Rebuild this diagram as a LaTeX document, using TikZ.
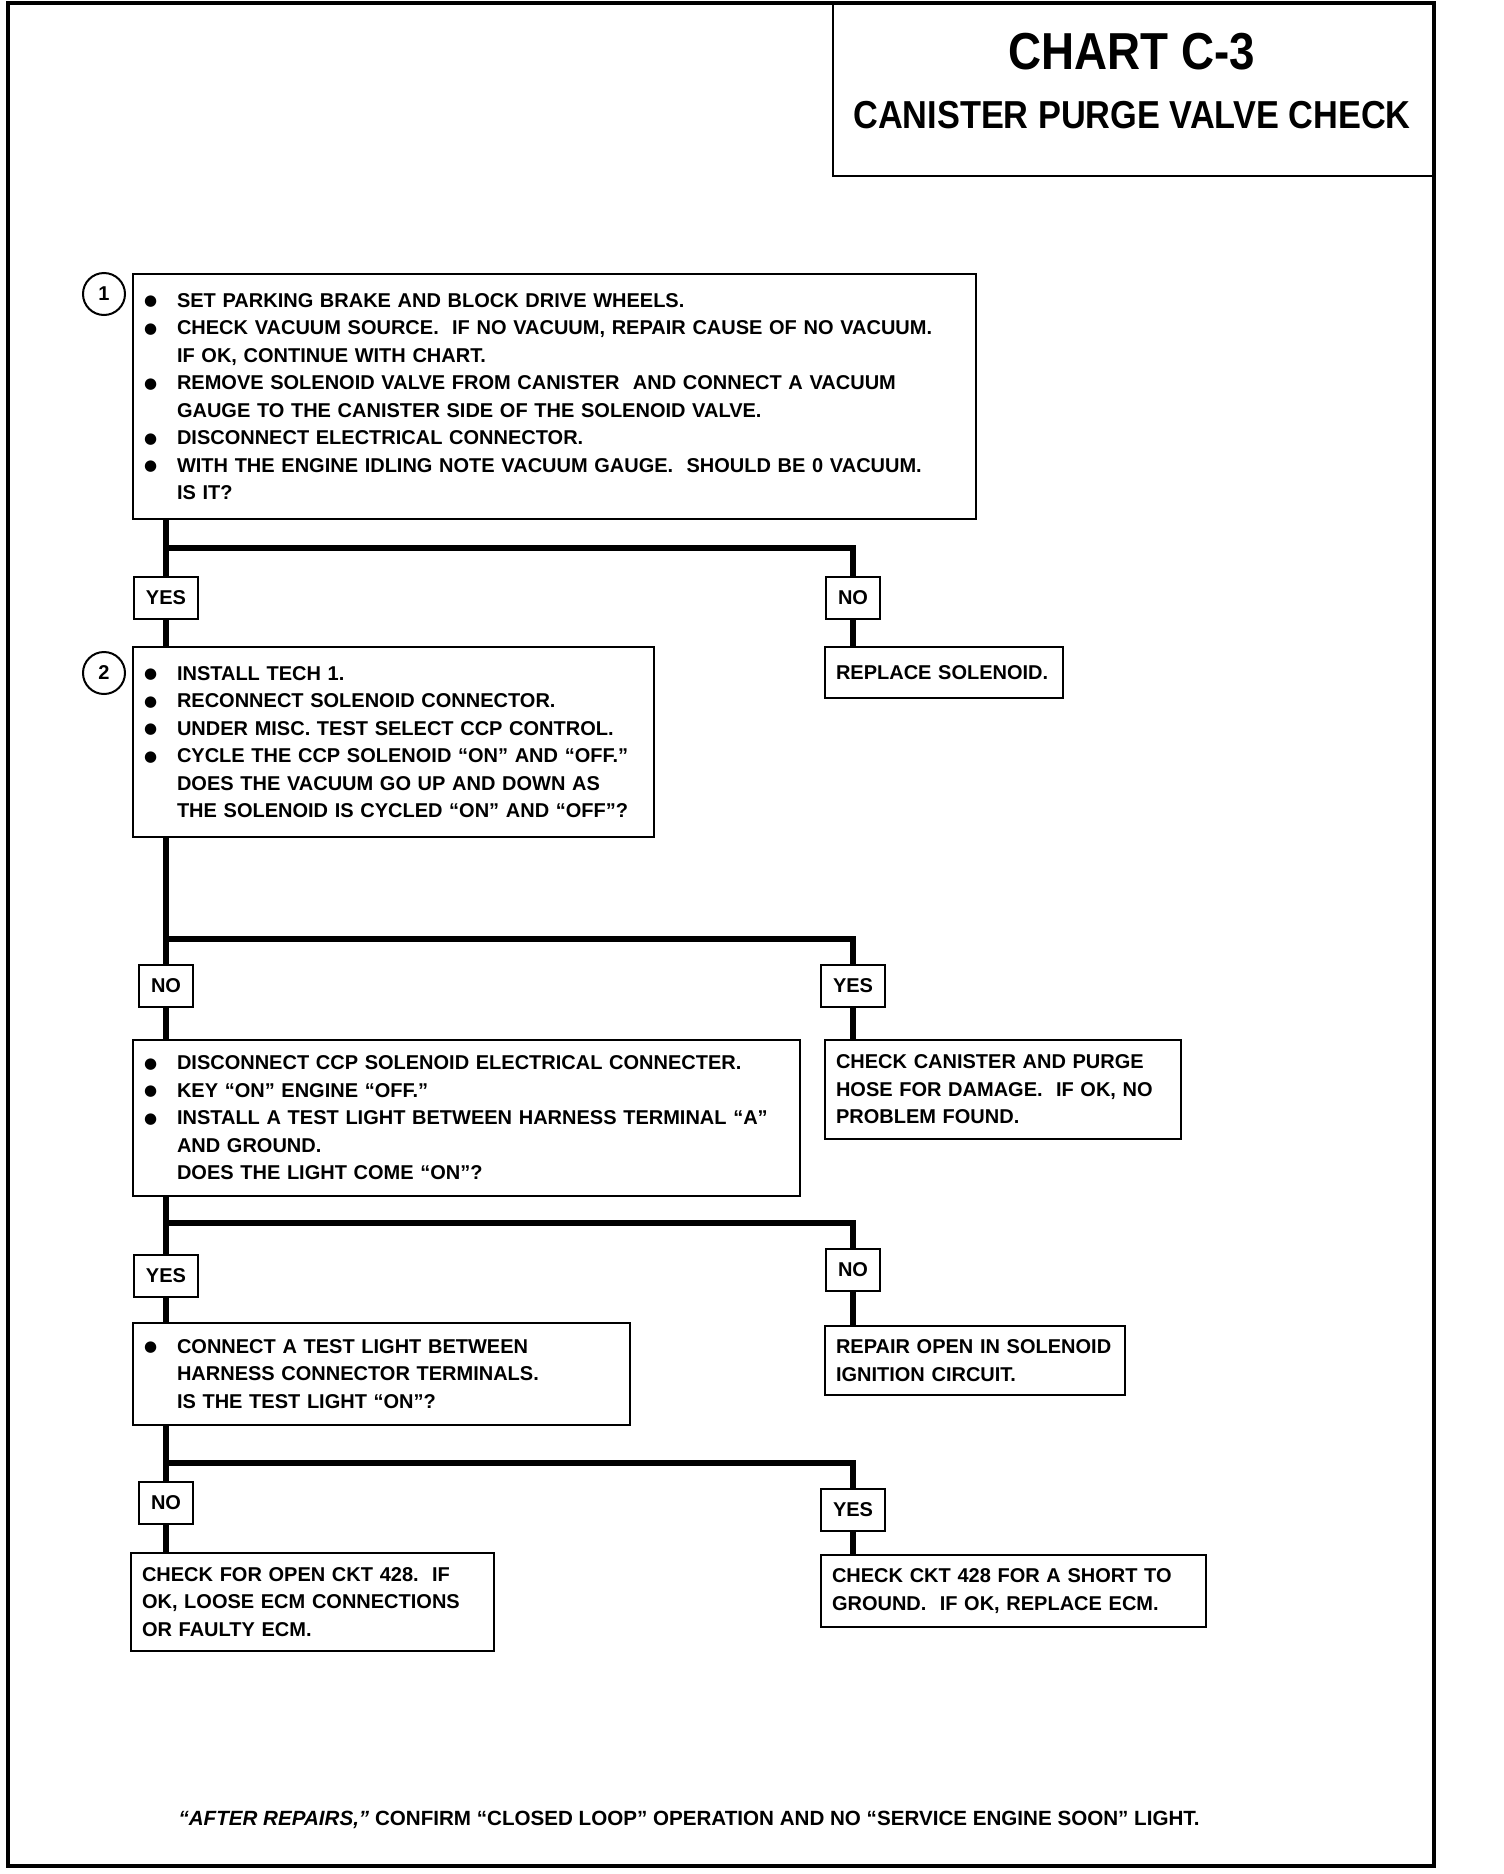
\documentclass[tikz,border=0pt]{standalone}
\usepackage{fontspec}
\setmainfont{Liberation Sans}
\newfontfamily\titlefont[FakeStretch=0.88]{Liberation Sans}
\newfontfamily\dotfont{DejaVu Sans}
% bullet line and continuation line
\newcommand{\bul}[1]{\mbox{\makebox[33pt][l]{\raisebox{1.5pt}{\dotfont\fontsize{15}{15}\selectfont ●}}#1}}
\newcommand{\cnt}[1]{\mbox{\hspace*{33pt}#1}}
\begin{document}
\begin{tikzpicture}[x=1pt, y=-1pt,
  every node/.style={font=\bfseries\fontsize{20}{27.5}\selectfont},
  box/.style={draw, line width=2.5pt, anchor=north west, align=left,
    inner xsep=11pt, inner ysep=0pt, outer sep=0pt},
  tag/.style={draw, line width=2.5pt, fill=white, minimum height=42pt,
    inner xsep=12pt, inner ysep=0pt, outer sep=0pt},
  num/.style={draw, circle, line width=2pt, minimum size=42pt, inner sep=0pt},
  conn/.style={line width=5.5pt}]

  \useasboundingbox (0,0) rectangle (1504,1874);

  % Trunk positions
  \def\leftx{166}
  \def\rightx{853}

  % Frame
  \draw[line width=4.5pt] (8,3) rectangle (1434,1866);
  \draw[line width=2.5pt] (833,3) -- (833,176) -- (1434,176);
  \node[font=\titlefont\bfseries\fontsize{39}{59}\selectfont, align=center] (title) at (1132,81)
    {{\fontsize{52}{59}\selectfont CHART C-3}\\ CANISTER PURGE VALVE CHECK};

  % Step 1
  \node[num] (n1) at (104,294) {1};
  \node[box, text width=821pt, minimum height=245pt] (chk1) at (133,274) {
    \bul{SET PARKING BRAKE AND BLOCK DRIVE WHEELS.}\\
    \bul{CHECK VACUUM SOURCE.\ \ IF NO VACUUM, REPAIR CAUSE OF NO VACUUM.}\\
    \cnt{IF OK, CONTINUE WITH CHART.}\\
    \bul{REMOVE SOLENOID VALVE FROM CANISTER \ AND CONNECT A VACUUM}\\
    \cnt{GAUGE TO THE CANISTER SIDE OF THE SOLENOID VALVE.}\\
    \bul{DISCONNECT ELECTRICAL CONNECTOR.}\\
    \bul{WITH THE ENGINE IDLING NOTE VACUUM GAUGE.\ \ SHOULD BE 0 VACUUM.}\\
    \cnt{IS IT?}};
  \node[tag] (yes1) at (\leftx,598) {YES};
  \node[tag] (no1) at (\rightx,598) {NO};
  \node[box, text width=216pt, minimum height=51pt] (rep1) at (825,647) {REPLACE SOLENOID.};
  \coordinate (j1) at (\leftx,548);
  \draw[conn] (chk1.south -| yes1.north) -- (yes1.north);
  \draw[conn] (j1) -| (no1.north);
  \draw[conn] (no1.south) -- (no1.south |- rep1.north);

  % Step 2
  \node[num] (n2) at (104,673) {2};
  \node[box, text width=499pt, minimum height=190pt] (chk2) at (133,647) {
    \bul{INSTALL TECH 1.}\\
    \bul{RECONNECT SOLENOID CONNECTOR.}\\
    \bul{UNDER MISC. TEST SELECT CCP CONTROL.}\\
    \bul{CYCLE THE CCP SOLENOID “ON” AND “OFF.”}\\
    \cnt{DOES THE VACUUM GO UP AND DOWN AS}\\
    \cnt{THE SOLENOID IS CYCLED “ON” AND “OFF”?}};
  \draw[conn] (yes1.south) -- (yes1.south |- chk2.north);
  \node[tag] (no2) at (\leftx,986) {NO};
  \node[tag] (yes2) at (\rightx,986) {YES};
  \node[box, text width=334pt, minimum height=99pt] (ok3) at (825,1040) {
    CHECK CANISTER AND PURGE\\
    HOSE FOR DAMAGE.\ \ IF OK, NO\\
    PROBLEM FOUND.};
  \coordinate (j2) at (\leftx,939);
  \draw[conn] (chk2.south -| no2.north) -- (no2.north);
  \draw[conn] (j2) -| (yes2.north);
  \draw[conn] (yes2.south) -- (yes2.south |- ok3.north);

  % Step 3
  \node[box, text width=645pt, minimum height=156pt] (chk3) at (133,1040) {
    \bul{DISCONNECT CCP SOLENOID ELECTRICAL CONNECTER.}\\
    \bul{KEY “ON” ENGINE “OFF.”}\\
    \bul{INSTALL A TEST LIGHT BETWEEN HARNESS TERMINAL “A”}\\
    \cnt{AND GROUND.}\\
    \cnt{DOES THE LIGHT COME “ON”?}};
  \draw[conn] (no2.south) -- (no2.south |- chk3.north);
  \node[tag] (yes3) at (\leftx,1276) {YES};
  \node[tag] (no3) at (\rightx,1270) {NO};
  \node[box, text width=278pt, minimum height=69pt] (rep3) at (825,1326) {
    REPAIR OPEN IN SOLENOID\\
    IGNITION CIRCUIT.};
  \coordinate (j3) at (\leftx,1223);
  \draw[conn] (chk3.south -| yes3.north) -- (yes3.north);
  \draw[conn] (j3) -| (no3.north);
  \draw[conn] (no3.south) -- (no3.south |- rep3.north);

  % Step 4
  \node[box, text width=475pt, minimum height=102pt] (chk4) at (133,1323) {
    \bul{CONNECT A TEST LIGHT BETWEEN}\\
    \cnt{HARNESS CONNECTOR TERMINALS.}\\
    \cnt{IS THE TEST LIGHT “ON”?}};
  \draw[conn] (yes3.south) -- (yes3.south |- chk4.north);
  \node[tag] (no4) at (\leftx,1503) {NO};
  \node[tag] (yes4) at (\rightx,1510) {YES};
  \node[box, text width=341pt, minimum height=98pt] (res4a) at (131,1553) {
    CHECK FOR OPEN CKT 428.\ \ IF\\
    OK, LOOSE ECM CONNECTIONS\\
    OR FAULTY ECM.};
  \node[box, text width=363pt, minimum height=72pt] (res4b) at (821,1555) {
    CHECK CKT 428 FOR A SHORT TO\\
    GROUND.\ \ IF OK, REPLACE ECM.};
  \coordinate (j4) at (\leftx,1463);
  \draw[conn] (chk4.south -| no4.north) -- (no4.north);
  \draw[conn] (no4.south) -- (no4.south |- res4a.north);
  \draw[conn] (j4) -| (yes4.north);
  \draw[conn] (yes4.south) -- (yes4.south |- res4b.north);

  % Note
  \node[font=\bfseries\fontsize{20.6}{24}\selectfont] (note) at (689,1820)
    {{\itshape “AFTER REPAIRS,”} CONFIRM “CLOSED LOOP” OPERATION AND NO “SERVICE ENGINE SOON” LIGHT.};

\end{tikzpicture}
\end{document}
